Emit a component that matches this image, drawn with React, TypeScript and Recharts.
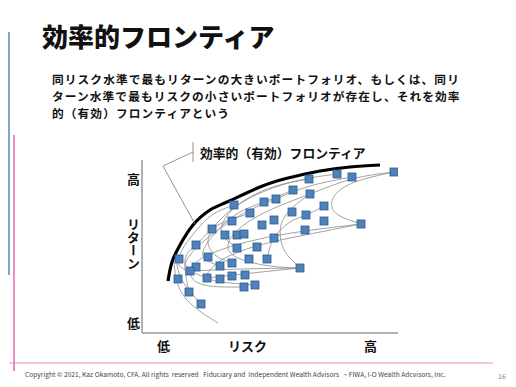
import React from "react";
import {
  ComposedChart,
  Line,
  Scatter,
  XAxis,
  YAxis,
  ReferenceLine,
} from "recharts";

// risk (x) / return (y) positions, in plot units
const portfolios = [
  { x: 252, y: 161 }, { x: 210, y: 156 }, { x: 195, y: 159 }, { x: 167, y: 154 },
  { x: 151, y: 143 }, { x: 168, y: 139 }, { x: 134, y: 134 }, { x: 122, y: 131 },
  { x: 92, y: 128 }, { x: 182, y: 127 }, { x: 108, y: 120 }, { x: 150, y: 121 },
  { x: 164, y: 118 }, { x: 120, y: 108 }, { x: 132, y: 113 }, { x: 90, y: 112 },
  { x: 182, y: 112 }, { x: 219, y: 109 }, { x: 70, y: 104 }, { x: 163, y: 103 },
  { x: 83, y: 98 }, { x: 95, y: 98 }, { x: 102, y: 99 }, { x: 132, y: 95 },
  { x: 54, y: 88 }, { x: 95, y: 85 }, { x: 115, y: 86 }, { x: 37, y: 74 },
  { x: 66, y: 76 }, { x: 107, y: 74 }, { x: 125, y: 74 }, { x: 54, y: 66 },
  { x: 48, y: 62 }, { x: 78, y: 67 }, { x: 90, y: 70 }, { x: 158, y: 65 },
  { x: 36, y: 54 }, { x: 65, y: 55 }, { x: 78, y: 54 }, { x: 90, y: 57 },
  { x: 103, y: 58 }, { x: 113, y: 48 }, { x: 102, y: 46 }, { x: 47, y: 41 },
  { x: 59, y: 29 },
];

const frontier = [
  { x: 26, y: 52 }, { x: 30, y: 71 }, { x: 38, y: 88 }, { x: 51, y: 108 },
  { x: 68, y: 123 }, { x: 85, y: 131 }, { x: 118, y: 146 }, { x: 146, y: 155 },
  { x: 178, y: 162 }, { x: 208, y: 166 }, { x: 238, y: 168 },
];

// thin combination curves between portfolios
const curves = [
  [{ x: 252, y: 161 }, { x: 210, y: 154 }, { x: 168, y: 139 }, { x: 128, y: 123 }, { x: 98, y: 105 }, { x: 86, y: 88 }, { x: 96, y: 75 }, { x: 128, y: 67 }, { x: 158, y: 65 }],
  [{ x: 252, y: 161 }, { x: 213, y: 151 }, { x: 193, y: 138 }, { x: 190, y: 126 }, { x: 198, y: 117 }, { x: 219, y: 109 }],
  [{ x: 219, y: 109 }, { x: 163, y: 102 }, { x: 113, y: 93 }, { x: 73, y: 81 }, { x: 53, y: 69 }, { x: 50, y: 55 }, { x: 68, y: 47 }, { x: 102, y: 46 }],
  [{ x: 219, y: 109 }, { x: 168, y: 99 }, { x: 118, y: 88 }, { x: 83, y: 75 }, { x: 68, y: 63 }, { x: 70, y: 53 }, { x: 113, y: 48 }],
  [{ x: 195, y: 159 }, { x: 158, y: 153 }, { x: 123, y: 142 }, { x: 96, y: 128 }, { x: 76, y: 111 }, { x: 66, y: 93 }, { x: 73, y: 78 }, { x: 90, y: 70 }],
  [{ x: 167, y: 154 }, { x: 134, y: 147 }, { x: 108, y: 136 }, { x: 90, y: 123 }, { x: 80, y: 108 }, { x: 82, y: 96 }, { x: 95, y: 85 }],
  [{ x: 151, y: 143 }, { x: 122, y: 131 }, { x: 98, y: 121 }, { x: 78, y: 105 }, { x: 64, y: 88 }, { x: 62, y: 75 }, { x: 78, y: 67 }],
  [{ x: 168, y: 139 }, { x: 150, y: 125 }, { x: 139, y: 108 }, { x: 140, y: 88 }, { x: 148, y: 75 }, { x: 158, y: 65 }],
  [{ x: 182, y: 127 }, { x: 164, y: 118 }, { x: 148, y: 111 }, { x: 132, y: 95 }, { x: 125, y: 74 }],
  [{ x: 32, y: 71 }, { x: 36, y: 48 }, { x: 50, y: 28 }, { x: 76, y: 10 }],
  [{ x: 34, y: 75 }, { x: 40, y: 53 }, { x: 59, y: 29 }],
  [{ x: 92, y: 128 }, { x: 70, y: 118 }, { x: 53, y: 101 }, { x: 40, y: 83 }, { x: 37, y: 68 }, { x: 48, y: 62 }],
  [{ x: 158, y: 65 }, { x: 100, y: 64 }, { x: 48, y: 62 }],
  [{ x: 158, y: 65 }, { x: 110, y: 60 }, { x: 65, y: 55 }],
  [{ x: 108, y: 120 }, { x: 88, y: 113 }, { x: 70, y: 104 }, { x: 54, y: 88 }, { x: 43, y: 73 }, { x: 47, y: 41 }],
  [{ x: 134, y: 134 }, { x: 108, y: 123 }, { x: 83, y: 108 }, { x: 63, y: 93 }, { x: 48, y: 78 }, { x: 45, y: 65 }, { x: 65, y: 55 }],
  [{ x: 210, y: 156 }, { x: 168, y: 147 }, { x: 134, y: 134 }],
];

const bodyLines = [
  "同リスク水準で最もリターンの大きいポートフォリオ、もしくは、同リ",
  "ターン水準で最もリスクの小さいポートフォリオが存在し、それを効率",
  "的（有効）フロンティアという",
];

const jp = '"Noto Sans CJK JP", "Noto Sans", sans-serif';

const Square = (props: any) => (
  <rect
    x={props.cx - 4}
    y={props.cy - 4}
    width={8}
    height={8}
    fill="#4F81BD"
    stroke="#2E5B8C"
    strokeWidth={0.8}
  />
);

const label: React.CSSProperties = {
  position: "absolute",
  fontFamily: jp,
  fontWeight: 700,
  fontSize: 13,
  lineHeight: "13px",
  color: "#111",
  whiteSpace: "nowrap",
};

export default function App() {
  return (
    <div
      style={{
        position: "absolute",
        left: 0,
        top: 0,
        width: 516,
        height: 387,
        background: "#fff",
        overflow: "hidden",
        fontFamily: jp,
      }}
    >
      <ComposedChart
        width={516}
        height={387}
        margin={{ top: 160, right: 118, bottom: 54, left: 142 }}
      >
        <XAxis type="number" dataKey="x" domain={[0, 256]} hide allowDataOverflow />
        <YAxis type="number" dataKey="y" domain={[0, 173]} hide allowDataOverflow />
        <ReferenceLine x={0} stroke="#999" strokeWidth={1.5} />
        <ReferenceLine y={0} stroke="#999" strokeWidth={1.5} />
        {curves.map((c, i) => (
          <Line
            key={i}
            data={c}
            dataKey="y"
            type="natural"
            stroke="#8c8c8c"
            strokeWidth={0.8}
            dot={false}
            isAnimationActive={false}
          />
        ))}
        <Line
          data={frontier}
          dataKey="y"
          type="natural"
          stroke="#000"
          strokeWidth={3.2}
          dot={false}
          isAnimationActive={false}
        />
        <Scatter data={portfolios} dataKey="y" shape={Square} isAnimationActive={false} />
      </ComposedChart>

      <svg
        width={516}
        height={387}
        style={{ position: "absolute", left: 0, top: 0, pointerEvents: "none" }}
      >
        <line x1={9} y1={32} x2={9} y2={275} stroke="#4A8DB8" strokeWidth={1.5} />
        <line x1={14} y1={135} x2={14} y2={371} stroke="#E0529A" strokeWidth={1.3} />
        <line x1={9} y1={363} x2={493} y2={363} stroke="#E78BBE" strokeWidth={1} />
        <line x1={193} y1={142} x2={193} y2={162} stroke="#777" strokeWidth={0.8} />
        <polyline
          points="193,152 163,166 195,224"
          fill="none"
          stroke="#777"
          strokeWidth={0.8}
        />
      </svg>

      <div
        style={{
          ...label,
          left: 42,
          top: 22,
          fontSize: 26,
          lineHeight: "28px",
          fontWeight: 900,
        }}
      >
        効率的フロンティア
      </div>
      {bodyLines.map((t, i) => (
        <div
          key={i}
          style={{
            ...label,
            left: 52,
            top: 72 + i * 17,
            fontSize: 11.7,
            letterSpacing: 1.1,
          }}
        >
          {t}
        </div>
      ))}
      <div style={{ ...label, left: 200, top: 146, fontSize: 12.8 }}>
        効率的（有効）フロンティア
      </div>

      <div style={{ ...label, left: 127, top: 172 }}>高</div>
      <div
        style={{
          ...label,
          left: 127,
          top: 218,
          writingMode: "vertical-rl",
          lineHeight: "13px",
        }}
      >
        リターン
      </div>
      <div style={{ ...label, left: 127, top: 316 }}>低</div>
      <div style={{ ...label, left: 157, top: 339 }}>低</div>
      <div style={{ ...label, left: 228, top: 339 }}>リスク</div>
      <div style={{ ...label, left: 364, top: 339 }}>高</div>

      <div
        style={{
          position: "absolute",
          left: 25,
          top: 371,
          fontSize: 6.65,
          lineHeight: "7px",
          color: "#444",
          whiteSpace: "nowrap",
          fontFamily: jp,
        }}
      >
        Copyright © 2021, Kaz Okamoto, CFA. All rights&nbsp; reserved&nbsp;&nbsp; Fiduciary and&nbsp; Independent Wealth Advisors&nbsp;&nbsp; ~ FIWA, I-O Wealth Adcvisors, Inc.
      </div>
      <div
        style={{
          position: "absolute",
          left: 498,
          top: 372,
          fontSize: 7,
          lineHeight: "8px",
          color: "#888",
          fontFamily: jp,
        }}
      >
        16
      </div>
    </div>
  );
}
